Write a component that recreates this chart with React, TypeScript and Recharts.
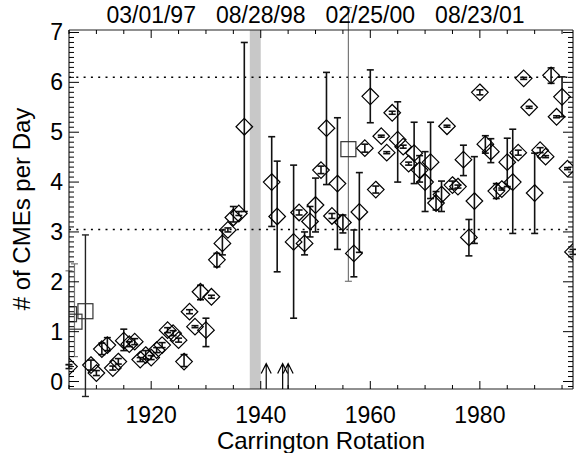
import React from "react";
import {
  ComposedChart,
  ErrorBar,
  ReferenceArea,
  ReferenceLine,
  Scatter,
  XAxis,
  YAxis,
} from "recharts";

const FONT = "'Liberation Sans', Arial, Helvetica, sans-serif";

// Carrington rotations with a daily CME rate (diamonds)
const diamondRot = [
  1905, 1909, 1910, 1911, 1912, 1913, 1914, 1915, 1916, 1917, 1918, 1919, 1920,
  1921, 1922, 1923, 1924, 1925, 1926, 1927, 1928, 1929, 1930, 1931, 1932, 1933,
  1934, 1935, 1936, 1937, 1942, 1943, 1946, 1947, 1948, 1949, 1950, 1951, 1952,
  1953, 1954, 1955, 1957, 1958, 1959, 1960, 1961, 1962, 1963, 1964, 1965, 1966,
  1967, 1968, 1969, 1970, 1971, 1972, 1973, 1974, 1975, 1976, 1977, 1978, 1979,
  1980, 1981, 1982, 1983, 1984, 1985, 1986, 1987, 1988, 1989, 1990, 1991, 1992,
  1993, 1994, 1995, 1996, 1997,
];
const diamondMean = [
  0.3, 0.33, 0.17, 0.65, 0.73, 0.27, 0.4, 0.82, 0.75, 0.8, 0.44, 0.53, 0.48,
  0.63, 0.73, 1.03, 0.97, 0.83, 0.4, 1.4, 1.1, 1.8, 1.03, 1.7, 2.44, 2.77,
  3.04, 3.29, 3.37, 5.11, 4.0, 3.31, 2.8, 3.39, 2.77, 3.21, 3.54, 4.24, 5.08,
  3.32, 3.97, 3.19, 2.57, 3.4, 4.68, 5.72, 3.85, 4.92, 4.59, 5.39, 4.85, 4.71,
  4.37, 4.58, 4.24, 4.0, 4.4, 3.58, 3.75, 5.12, 3.94, 3.91, 4.45, 2.89, 3.62,
  5.8, 4.76, 4.61, 3.82, 3.86, 4.4, 4.0, 4.59, 6.08, 5.5, 3.78, 4.64, 4.51,
  6.14, 5.31, 5.71, 4.27, 2.6,
];
const diamondLow = [
  0.26, 0.23, 0.12, 0.54, 0.62, 0.23, 0.35, 0.62, 0.7, 0.74, 0.4, 0.45, 0.44,
  0.58, 0.68, 0.98, 0.92, 0.79, 0.3, 1.36, 1.08, 1.64, 0.7, 1.67, 2.3, 2.54,
  3.0, 3.2, 3.33, 3.41, 3.11, 2.2, 1.27, 3.34, 2.54, 2.9, 3.0, 4.17, 3.95,
  3.27, 2.65, 2.98, 2.1, 2.59, 4.6, 5.19, 3.78, 4.9, 4.57, 5.36, 4.0, 4.68,
  4.34, 3.97, 4.0, 3.41, 3.67, 3.44, 3.41, 5.1, 3.86, 3.88, 4.13, 2.52, 2.77,
  5.75, 4.58, 4.39, 3.67, 3.84, 3.91, 2.97, 4.54, 6.06, 5.48, 2.97, 4.59, 4.49,
  5.98, 5.29, 5.31, 4.25, 2.55,
];
const diamondHigh = [
  0.34, 0.43, 0.22, 0.77, 0.88, 0.31, 0.46, 1.05, 0.8, 0.86, 0.48, 0.62, 0.52,
  0.68, 0.78, 1.08, 1.02, 0.87, 0.54, 1.44, 1.12, 1.93, 1.27, 1.73, 2.57, 3.04,
  3.08, 3.51, 3.41, 6.8, 4.91, 4.42, 4.34, 3.44, 3.0, 3.51, 4.08, 4.32, 6.2,
  3.37, 5.29, 3.34, 3.04, 4.19, 4.76, 6.25, 3.92, 4.94, 4.61, 5.42, 5.61, 4.74,
  4.4, 5.2, 4.53, 4.61, 5.2, 3.81, 4.02, 5.14, 4.02, 3.94, 4.74, 3.25, 4.51,
  5.85, 4.93, 4.87, 3.97, 3.88, 4.88, 5.06, 4.64, 6.1, 5.52, 4.58, 4.69, 4.53,
  6.29, 5.33, 6.11, 4.29, 2.65,
];

// Rotations plotted with a square symbol
const squareRot = [1905, 1906, 1908, 1956];
const squareMean = [1.35, 1.2, 1.41, 4.66];
const squareLow = [0.33, 0.5, -0.3, 2.01];
const squareHigh = [2.22, 2.36, 2.94, 7.5];
// which square error bars are drawn dark instead of grey
const squareDarkBar = [false, false, true, false];

// Rotations with no data (marked by arrows)
const arrowRot = [1941, 1944, 1945];

// Data gap
const gapStart = 1938;
const gapEnd = 1940;

// Mean levels before and after the rise
const levelLines = [6.1, 3.05];

const xTicks = [
  1905, 1910, 1915, 1920, 1925, 1930, 1935, 1940, 1945, 1950, 1955, 1960, 1965,
  1970, 1975, 1980, 1985, 1990, 1995,
];
const majorRot = [1920, 1940, 1960, 1980];
const topDates = ["03/01/97", "08/28/98", "02/25/00", "08/23/01"];
const yTicks = Array.from({ length: 72 }, (_, i) => (i - 1) / 10);

const X_DOMAIN = [1905, 1997];
const Y_DOMAIN = [-0.15, 7.05];

const withErr = (rot: number[], mean: number[], lo: number[], hi: number[]) =>
  rot.map((r, i) => ({
    rot: r,
    v: mean[i],
    err: [mean[i] - lo[i], hi[i] - mean[i]],
  }));

const diamonds = withErr(diamondRot, diamondMean, diamondLow, diamondHigh);
const squares = withErr(squareRot, squareMean, squareLow, squareHigh);
const squaresGrey = squares.filter((_, i) => !squareDarkBar[i]);
const squaresDark = squares.filter((_, i) => squareDarkBar[i]);
const arrows = arrowRot.map((r) => ({ rot: r, v: 0 }));

const Diamond = (p: any) => {
  const { cx, cy } = p;
  const r = 8.3;
  return (
    <path
      d={`M${cx} ${cy - r}L${cx + r} ${cy}L${cx} ${cy + r}L${cx - r} ${cy}Z`}
      fill="none"
      stroke="#000"
      strokeWidth={1.2}
    />
  );
};

const Square = (p: any) => {
  const { cx, cy } = p;
  const h = 7.5;
  return (
    <rect
      x={cx - h}
      y={cy - h}
      width={2 * h}
      height={2 * h}
      fill="none"
      stroke="#333"
      strokeWidth={1.2}
    />
  );
};

const Arrow = (p: any) => {
  const { cx, cy } = p;
  return (
    <path
      d={`M${cx} ${cy + 8}V${cy - 18}M${cx - 5} ${cy - 8}L${cx} ${cy - 18}L${cx + 5} ${cy - 8}`}
      fill="none"
      stroke="#000"
      strokeWidth={1.2}
    />
  );
};

const isMajorX = (v: number) => majorRot.includes(v);
const isMajorY = (v: number) => Math.round(v * 10) % 10 === 0;

const BottomTick = ({ x, y, payload }: any) => {
  const major = isMajorX(payload.value);
  return (
    <g>
      <line x1={x} x2={x} y1={y} y2={y - (major ? 8 : 4)} stroke="#000" />
      {major && (
        <text x={x} y={y + 34} textAnchor="middle" fontSize={23} fontFamily={FONT} fill="#000">
          {payload.value}
        </text>
      )}
    </g>
  );
};

const TopTick = ({ x, y, payload }: any) => {
  const idx = majorRot.indexOf(payload.value);
  return (
    <g>
      <line x1={x} x2={x} y1={y} y2={y + (idx >= 0 ? 8 : 4)} stroke="#000" />
      {idx >= 0 && (
        <text x={x} y={y - 7} textAnchor="middle" fontSize={23} fontFamily={FONT} fill="#000">
          {topDates[idx]}
        </text>
      )}
    </g>
  );
};

const LeftTick = ({ x, y, payload }: any) => {
  const v = payload.value;
  const major = isMajorY(v);
  return (
    <g>
      <line x1={x} x2={x + (major ? 10 : 5)} y1={y} y2={y} stroke="#000" />
      {major && v >= 0 && (
        <text x={x - 6} y={y + 8} textAnchor="end" fontSize={23} fontFamily={FONT} fill="#000">
          {Math.round(v)}
        </text>
      )}
    </g>
  );
};

const RightTick = ({ x, y, payload }: any) => {
  const major = isMajorY(payload.value);
  return <line x1={x} x2={x - (major ? 10 : 5)} y1={y} y2={y} stroke="#000" />;
};

const axisLine = { stroke: "#222", strokeWidth: 1.2 };

export default function App() {
  return (
    <div style={{ position: "absolute", left: 0, top: 0, background: "#fff" }}>
      <ComposedChart
        width={576}
        height={453}
        margin={{ top: 0, right: 0, bottom: 0, left: 0 }}
      >
        <ReferenceArea
          x1={gapStart}
          x2={gapEnd}
          fill="#c8c8c8"
          fillOpacity={1}
          stroke="none"
          ifOverflow="hidden"
        />
        {levelLines.map((y) => (
          <ReferenceLine
            key={y}
            y={y}
            stroke="#000"
            strokeWidth={1.5}
            strokeDasharray="2 5.3"
          />
        ))}
        <XAxis
          type="number"
          dataKey="rot"
          domain={X_DOMAIN}
          allowDataOverflow
          ticks={xTicks}
          interval={0}
          tickSize={0}
          tickMargin={0}
          height={64}
          tick={BottomTick}
          axisLine={axisLine}
        />
        <XAxis
          xAxisId="top"
          orientation="top"
          type="number"
          dataKey="rot"
          domain={X_DOMAIN}
          allowDataOverflow
          ticks={xTicks}
          interval={0}
          tickSize={0}
          tickMargin={0}
          height={30}
          tick={TopTick}
          axisLine={axisLine}
        />
        <YAxis
          type="number"
          dataKey="v"
          domain={Y_DOMAIN}
          allowDataOverflow
          ticks={yTicks}
          interval={0}
          tickSize={0}
          tickMargin={0}
          width={69}
          tick={LeftTick}
          axisLine={axisLine}
        />
        <YAxis
          yAxisId="right"
          orientation="right"
          type="number"
          domain={Y_DOMAIN}
          allowDataOverflow
          ticks={yTicks}
          interval={0}
          tickSize={0}
          tickMargin={0}
          width={3}
          tick={RightTick}
          axisLine={axisLine}
        />
        <Scatter data={squaresGrey} shape={Square} isAnimationActive={false}>
          <ErrorBar dataKey="err" direction="y" width={3.5} stroke="#777" strokeWidth={1.2} />
        </Scatter>
        <Scatter data={squaresDark} shape={Square} isAnimationActive={false}>
          <ErrorBar dataKey="err" direction="y" width={3.5} stroke="#222" strokeWidth={1.4} />
        </Scatter>
        <Scatter data={diamonds} shape={Diamond} isAnimationActive={false}>
          <ErrorBar dataKey="err" direction="y" width={3.5} stroke="#111" strokeWidth={1.6} />
        </Scatter>
        <Scatter data={arrows} shape={Arrow} isAnimationActive={false} />
        <text
          x={321}
          y={449}
          textAnchor="middle"
          fontSize={24}
          fontFamily={FONT}
          fill="#000"
        >
          Carrington Rotation
        </text>
        <text
          x={30}
          y={209}
          transform="rotate(-90, 30, 209)"
          textAnchor="middle"
          fontSize={24}
          fontFamily={FONT}
          fill="#000"
        >
          # of CMEs per Day
        </text>
      </ComposedChart>
    </div>
  );
}
